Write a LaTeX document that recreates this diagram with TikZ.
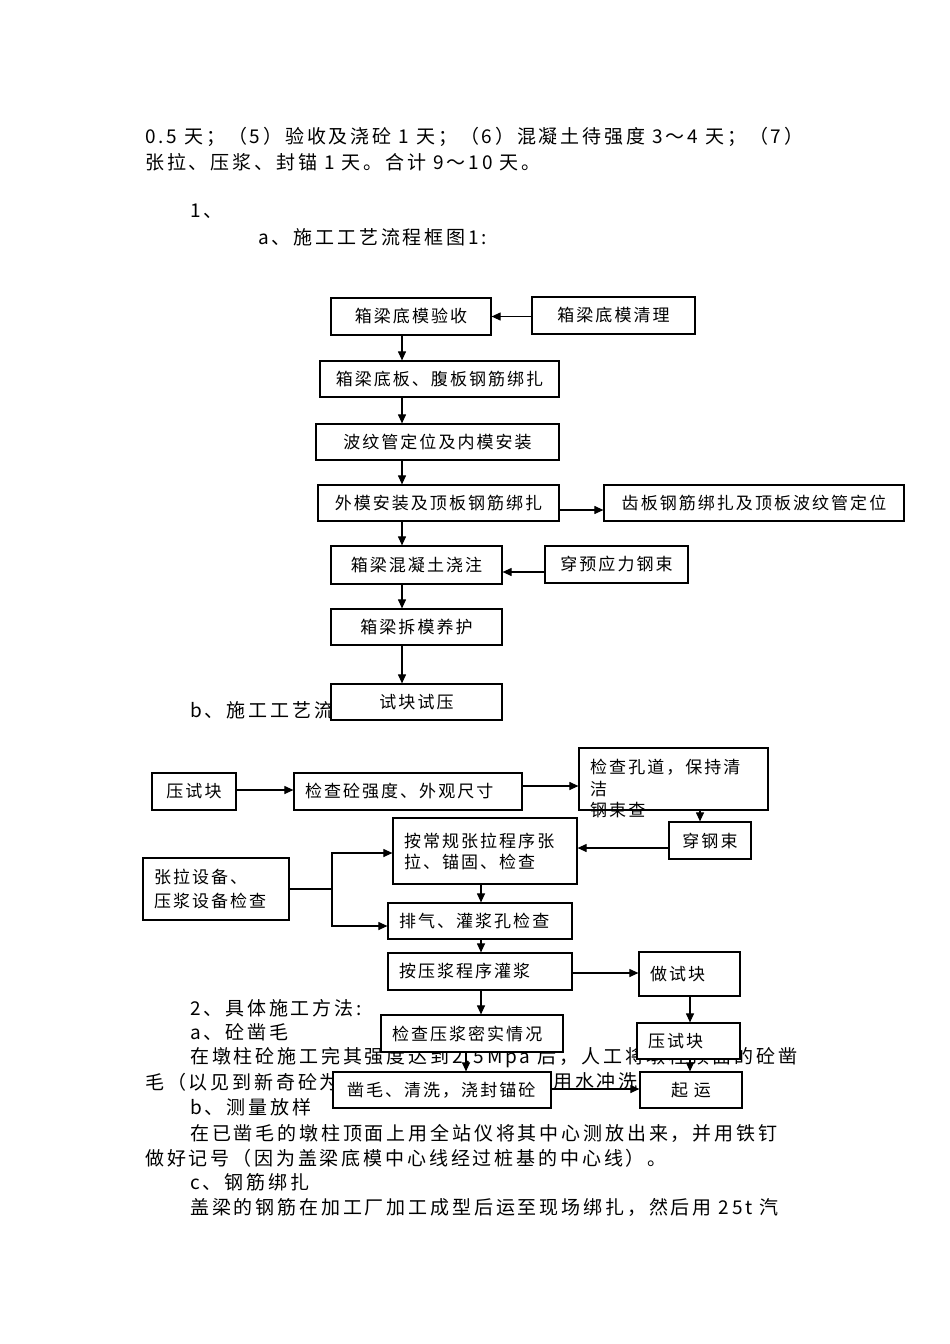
\documentclass[tikz,border=0pt]{standalone}
\usepackage{fontspec}
\setmainfont{Noto Sans CJK SC}
\newfontfamily\fbody[LetterSpace=15]{Noto Sans CJK SC}
\newfontfamily\fchart[LetterSpace=12]{Noto Sans CJK SC}
\usetikzlibrary{arrows.meta}
\begin{document}
\begin{tikzpicture}[x=1pt,y=-1pt,
  body/.style={anchor=west, inner sep=0pt, font=\fbody\fontsize{19}{19}\selectfont},
  boxa/.style={draw, fill=white, line width=1.2pt, inner sep=0pt, align=center,
    font=\fchart\fontsize{17}{17}\selectfont},
  boxl/.style={draw, fill=white, line width=1.2pt, inner ysep=0pt, inner xsep=11pt, align=left,
    font=\fchart\fontsize{17}{21}\selectfont},
  lbl/.style={inner sep=0pt, align=left, font=\fchart\fontsize{17}{21.5}\selectfont},
  arr/.style={line width=1.1pt, -{Triangle[length=9pt,width=8pt]}},
  ln/.style={line width=1.1pt}]
\useasboundingbox (0,0) rectangle (950,1344);
\fill[white] (0,0) rectangle (950,1344);

% ---------- running text ----------
\node[body] (t1) at (145,137) {0.5 天；（5）验收及浇砼 1 天；（6）混凝土待强度 3～4 天；（7）};
\node[body] (t2) at (145,162) {张拉、压浆、封锚 1 天。合计 9～10 天。};
\node[body] (t3) at (190,211) {1、};
\node[body] (t4) at (258,237) {a、施工工艺流程框图1:};
\node[body] (t5) at (190,710) {b、施工工艺流};
\node[body] (t6) at (190,1008) {2、具体施工方法:};
\node[body] (t7) at (190,1032) {a、砼凿毛};
\node[body] (t8) at (190,1058) {在墩柱砼施工完其强度达到2.5Mpa 后，人工将墩柱顶面的砼凿};
\node[body] (t9) at (145,1082) {毛（以见到新奇砼为};
\node[body] (t9b) at (553,1082) {用水冲洗，};
\node[body] (t10) at (190,1107) {b、测量放样};
\node[body] (t11) at (190,1133) {在已凿毛的墩柱顶面上用全站仪将其中心测放出来，并用铁钉};
\node[body] (t12) at (145,1158) {做好记号（因为盖梁底模中心线经过桩基的中心线）。};
\node[body] (t13) at (190,1182) {c、钢筋绑扎};
\node[body] (t14) at (190,1207) {盖梁的钢筋在加工厂加工成型后运至现场绑扎，然后用 25t 汽};

% ---------- chart a ----------
\node[boxa, minimum width=160pt, minimum height=37pt] (a1) at (411,316.5) {箱梁底模验收};
\node[boxa, minimum width=163pt, minimum height=37pt] (a2) at (613.5,315.5) {箱梁底模清理};
\node[boxa, minimum width=239pt, minimum height=36pt] (a3) at (439.5,379) {箱梁底板、腹板钢筋绑扎};
\node[boxa, minimum width=243pt, minimum height=36pt] (a4) at (437.5,442) {波纹管定位及内模安装};
\node[boxa, minimum width=241pt, minimum height=36pt] (a5) at (438.5,503) {外模安装及顶板钢筋绑扎};
\node[boxa, minimum width=300pt, minimum height=36pt] (a6) at (754,503) {齿板钢筋绑扎及顶板波纹管定位};
\node[boxa, minimum width=171pt, minimum height=38pt] (a7) at (416.5,565) {箱梁混凝土浇注};
\node[boxa, minimum width=143pt, minimum height=37pt] (a8) at (616.5,564.5) {穿预应力钢束};
\node[boxa, minimum width=171pt, minimum height=36pt] (a9) at (416.5,627) {箱梁拆模养护};
\node[boxa, minimum width=171pt, minimum height=36pt] (a10) at (416.5,702) {试块试压};

\coordinate (va) at (402,0);
\coordinate (y56) at (0,510);
\coordinate (y87) at (0,572);
\draw[arr] (a2.west |- a1.east) -- (a1.east);
\draw[arr] (a1.south -| va) -- (a3.north -| va);
\draw[arr] (a3.south -| va) -- (a4.north -| va);
\draw[arr] (a4.south -| va) -- (a5.north -| va);
\draw[arr] (a5.east |- y56) -- (a6.west |- y56);
\draw[arr] (a5.south -| va) -- (a7.north -| va);
\draw[arr] (a8.west |- y87) -- (a7.east |- y87);
\draw[arr] (a7.south -| va) -- (a9.north -| va);
\draw[arr] (a9.south -| va) -- (a10.north -| va);

% ---------- chart b ----------
\node[boxa, minimum width=84pt, minimum height=37pt] (b1) at (194,791.5) {压试块};
\node[boxl, text width=206pt, minimum height=37pt] (b2) at (408,791.5) {检查砼强度、外观尺寸};
\node[draw, fill=white, line width=1.2pt, minimum width=189pt, minimum height=62pt, inner sep=0pt] (b3) at (673.5,779) {};
\node[lbl, anchor=west] (b3t) at (590,788.5) {检查孔道，保持清\\洁\\钢束查};
\node[boxa, minimum width=82pt, minimum height=37pt] (b4) at (710,840.5) {穿钢束};
\node[boxl, text width=162pt, minimum height=66pt] (b5) at (485,851) {按常规张拉程序张\\拉、锚固、检查};
\node[boxl, text width=124pt, minimum height=62pt, font=\fchart\fontsize{17}{24}\selectfont] (b6) at (216,889) {张拉设备、\\压浆设备检查};
\node[boxl, text width=162pt, minimum height=36pt] (b7) at (480,921) {排气、灌浆孔检查};
\node[boxl, text width=162pt, minimum height=37pt] (b8) at (480,971.5) {按压浆程序灌浆};
\node[boxl, text width=79pt, minimum height=44pt] (b9) at (689.5,974) {做试块};
\node[boxl, text width=160pt, minimum height=37pt] (b10) at (472,1033.5) {检查压浆密实情况};
\node[boxl, text width=81pt, minimum height=36pt] (b11) at (688.5,1041) {压试块};
\node[boxl, inner xsep=14pt, text width=190pt, minimum height=36pt] (b12) at (442,1090) {凿毛、清洗，浇封锚砼};
\node[boxa, minimum width=102pt, minimum height=36pt] (b13) at (691,1090) {起\ 运};

\coordinate (j5) at (332,853);
\coordinate (j7) at (332,926);
\coordinate (vb) at (481,0);
\coordinate (vc) at (700,0);
\coordinate (vd) at (690,0);
\coordinate (ve) at (466,0);
\coordinate (y12) at (0,790);
\coordinate (y23) at (0,786);
\coordinate (y45) at (0,848);
\coordinate (y89) at (0,973);
\coordinate (y1213) at (0,1089);

\draw[arr] (b1.east |- y12) -- (b2.west |- y12);
\draw[arr] (b2.east |- y23) -- (b3.west |- y23);
\draw[arr] (b3.south -| vc) -- (b4.north -| vc);
\draw[arr] (b4.west |- y45) -- (b5.east |- y45);
\draw[arr] (b6.east) -| (j5) -- (b5.west |- j5);
\draw[arr] (b6.east) -| (j7) -- (b7.west |- j7);
\draw[arr] (b5.south -| vb) -- (b7.north -| vb);
\draw[arr] (b7.south -| vb) -- (b8.north -| vb);
\draw[arr] (b8.east |- y89) -- (b9.west |- y89);
\draw[arr] (b8.south -| vb) -- (b10.north -| vb);
\draw[arr] (b9.south -| vd) -- (b11.north -| vd);
\draw[arr] (b10.south -| ve) -- (b12.north -| ve);
\draw[arr] (b11.south -| vd) -- (b13.north -| vd);
\draw[arr] (b12.east |- y1213) -- (b13.west |- y1213);
\end{tikzpicture}
\end{document}
